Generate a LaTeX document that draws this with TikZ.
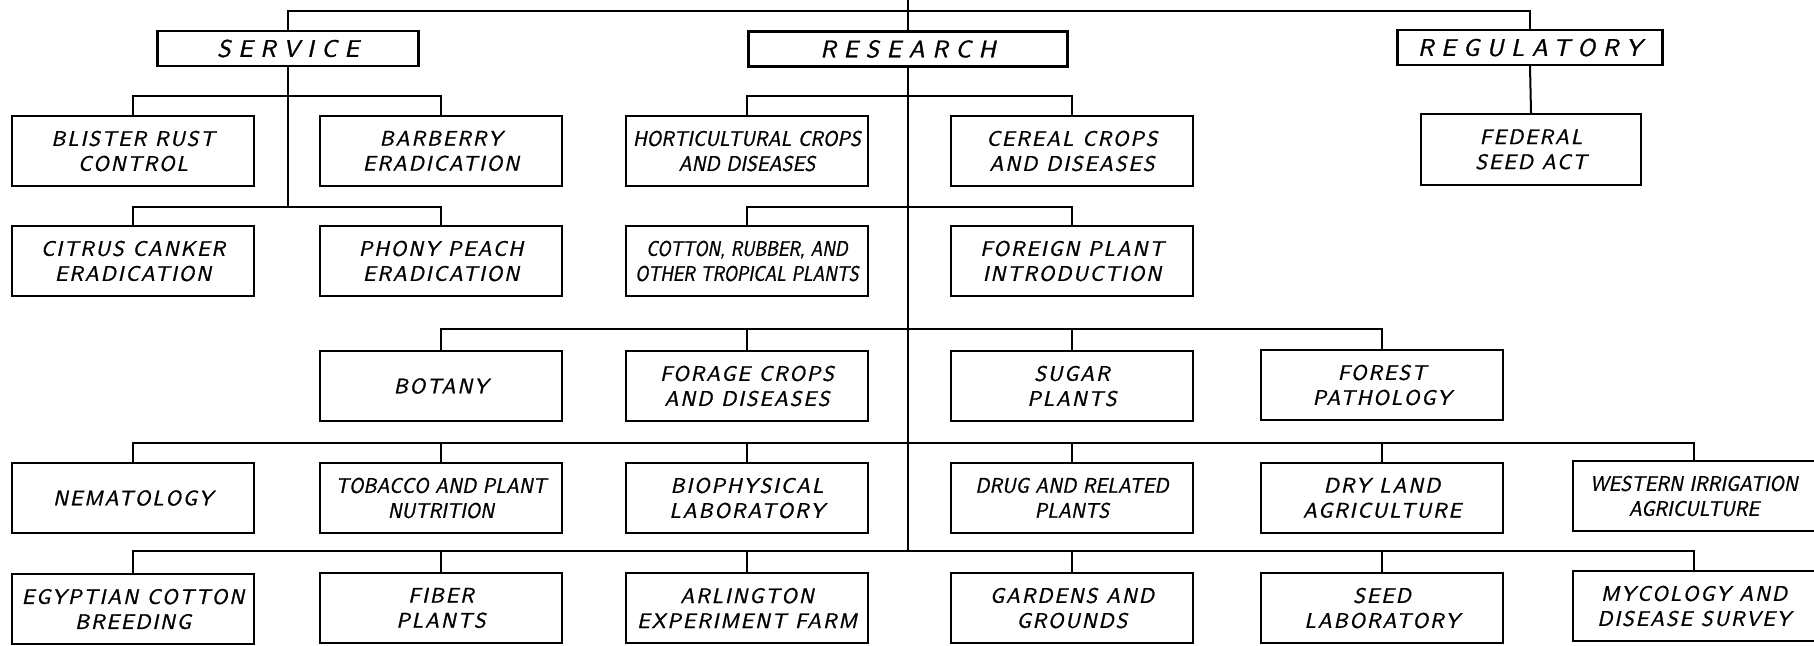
\documentclass[tikz,border=0pt]{standalone}
\usepackage{fontspec}
\newfontfamily\lettering{lmsans10-oblique.otf}[LetterSpace=9,FakeBold=1.2]
\newfontfamily\tightlettering{lmsans10-oblique.otf}[LetterSpace=1,FakeStretch=0.92,FakeBold=1.2]
\newfontfamily\tighterlettering{lmsans10-oblique.otf}[LetterSpace=0,FakeStretch=0.84,FakeBold=1.2]
\newfontfamily\headlettering{lmsans10-oblique.otf}[LetterSpace=32,FakeBold=1.2]

\tikzset{
  unit/.style={draw, line width=2.2pt, minimum width=242pt, minimum height=70pt,
    inner sep=0pt, align=center, font=\lettering\fontsize{21}{25}\selectfont},
  tight/.style={font=\tightlettering\fontsize{21}{25}\selectfont},
  tighter/.style={font=\tighterlettering\fontsize{21}{25}\selectfont},
  division/.style={draw, line width=2.2pt, minimum height=35pt, inner sep=0pt,
    font=\headlettering\fontsize{24}{28}\selectfont},
  link/.style={line width=2pt}
}

\begin{document}
\begin{tikzpicture}[x=1pt,y=-1pt]
  \useasboundingbox (0,0) rectangle (1814,645);

  % divisions
  \node[division, minimum width=261pt] (service) at (288,48.5) {SERVICE};
  \node[division, minimum width=319pt] (research) at (908,49) {RESEARCH};
  \node[division, minimum width=265pt] (regulatory) at (1530,47.5) {REGULATORY};
  \node[unit, minimum width=220pt, minimum height=71pt] (federal) at (1531,149.5) {FEDERAL\\SEED ACT};

  % service offices
  \node[unit] (blister) at (133,151) {BLISTER RUST\\CONTROL};
  \node[unit] (barberry) at (441,151) {BARBERRY\\ERADICATION};
  \node[unit] (citrus) at (133,261) {CITRUS CANKER\\ERADICATION};
  \node[unit] (phony) at (441,261) {PHONY PEACH\\ERADICATION};

  % research offices
  \node[unit, tight] (horti) at (747,151) {HORTICULTURAL CROPS\\AND DISEASES};
  \node[unit] (cereal) at (1072,151) {CEREAL CROPS\\AND DISEASES};
  \node[unit, tighter] (cotton) at (747,261) {COTTON, RUBBER, AND\\OTHER TROPICAL PLANTS};
  \node[unit] (foreign) at (1072,261) {FOREIGN PLANT\\INTRODUCTION};

  \node[unit] (botany) at (441,386) {BOTANY};
  \node[unit] (forage) at (747,386) {FORAGE CROPS\\AND DISEASES};
  \node[unit] (sugar) at (1072,386) {SUGAR\\PLANTS};
  \node[unit] (forest) at (1382,385) {FOREST\\PATHOLOGY};

  \node[unit] (nematology) at (133,498) {NEMATOLOGY};
  \node[unit, tight] (tobacco) at (441,498) {TOBACCO AND PLANT\\NUTRITION};
  \node[unit] (biophysical) at (747,498) {BIOPHYSICAL\\LABORATORY};
  \node[unit, tight] (drug) at (1072,498) {DRUG AND RELATED\\PLANTS};
  \node[unit] (dryland) at (1382,498) {DRY LAND\\AGRICULTURE};
  \node[unit, tight] (western) at (1694,496) {WESTERN IRRIGATION\\AGRICULTURE};

  \node[unit] (egyptian) at (133,609) {EGYPTIAN COTTON\\BREEDING};
  \node[unit] (fiber) at (441,608) {FIBER\\PLANTS};
  \node[unit] (arlington) at (747,608) {ARLINGTON\\EXPERIMENT FARM};
  \node[unit] (gardens) at (1072,608) {GARDENS AND\\GROUNDS};
  \node[unit] (seedlab) at (1382,608) {SEED\\LABORATORY};
  \node[unit] (mycology) at (1694,606) {MYCOLOGY AND\\DISEASE SURVEY};

  % branch levels
  \coordinate (top) at (908,0);
  \coordinate (t0) at (0,11);
  \coordinate (b1) at (0,96);
  \coordinate (b2) at (0,207);
  \coordinate (b3) at (0,329);
  \coordinate (b4) at (0,443);
  \coordinate (b5) at (0,551);

  % main trunk and divisions
  \draw[link] (top) -- (research.north);
  \draw[link] (service.north) |- (research.north |- t0) -| (regulatory.north);
  \draw[link] (regulatory.south) -- (federal.north);
  \draw[link] (research.south) -- (research.south |- b5);

  % service tree
  \draw[link] (service.south) -- (service.south |- b2);
  \draw[link] (blister.north) |- (service.south |- b1) -| (barberry.north);
  \draw[link] (citrus.north) |- (service.south |- b2) -| (phony.north);

  % research tree
  \draw[link] (horti.north) |- (research.south |- b1) -| (cereal.north);
  \draw[link] (cotton.north) |- (research.south |- b2) -| (foreign.north);
  \draw[link] (botany.north) |- (research.south |- b3) -| (forest.north);
  \foreach \n in {forage,sugar}
    \draw[link] (\n.north) -- (\n.north |- b3);
  \draw[link] (nematology.north) |- (research.south |- b4) -| (western.north);
  \foreach \n in {tobacco,biophysical,drug,dryland}
    \draw[link] (\n.north) -- (\n.north |- b4);
  \draw[link] (egyptian.north) |- (research.south |- b5) -| (mycology.north);
  \foreach \n in {fiber,arlington,gardens,seedlab}
    \draw[link] (\n.north) -- (\n.north |- b5);
\end{tikzpicture}
\end{document}
